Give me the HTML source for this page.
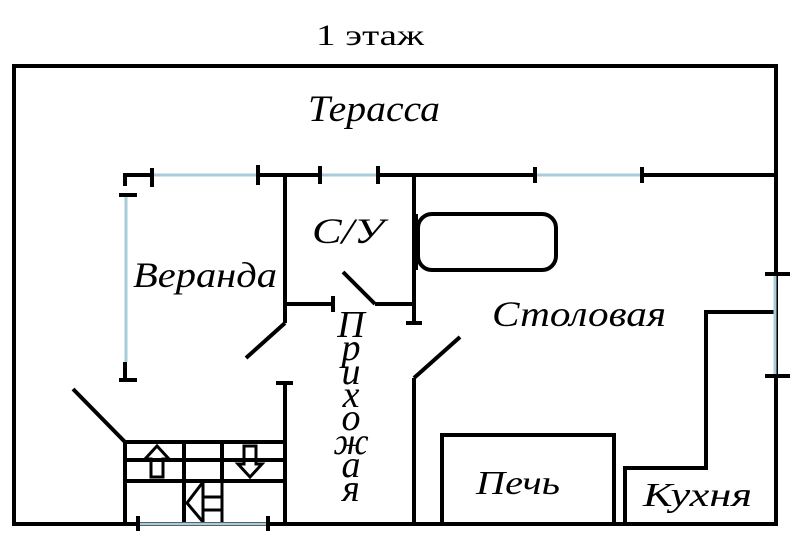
<!DOCTYPE html>
<html><head><meta charset="utf-8"><style>
html,body{margin:0;padding:0;background:#fff;}
svg{display:block}
text{font-family:"Liberation Serif","DejaVu Serif",serif;fill:#000}
.i{font-style:italic}
</style></head><body>
<svg width="800" height="547" viewBox="0 0 800 547" xmlns="http://www.w3.org/2000/svg">
<g stroke="#000" stroke-width="4" fill="none" stroke-linecap="butt">
<rect x="14" y="66" width="762" height="458"/>
<polyline points="125,186 125,175 152,175"/>
<line x1="258" y1="175" x2="320" y2="175"/>
<line x1="378" y1="175" x2="535" y2="175"/>
<line x1="642" y1="175" x2="776" y2="175"/>
<line x1="152" y1="168" x2="152" y2="187"/>
<line x1="258" y1="165" x2="258" y2="185"/>
<line x1="320" y1="166" x2="320" y2="184"/>
<line x1="378" y1="166" x2="378" y2="184"/>
<line x1="535" y1="167" x2="535" y2="183"/>
<line x1="642" y1="167" x2="642" y2="183"/>
<line x1="119" y1="195" x2="137" y2="195"/>
<line x1="119" y1="380" x2="137" y2="380"/>
<line x1="125" y1="362" x2="125" y2="380"/>
<line x1="285" y1="175" x2="285" y2="323"/>
<line x1="285" y1="304" x2="333" y2="304"/>
<line x1="333" y1="296" x2="333" y2="312"/>
<line x1="285" y1="323" x2="246" y2="358"/>
<line x1="414" y1="175" x2="414" y2="323"/>
<line x1="406" y1="323" x2="422" y2="323"/>
<line x1="375" y1="304" x2="414" y2="304"/>
<line x1="375" y1="304" x2="343" y2="272"/>
<line x1="285" y1="382" x2="285" y2="524"/>
<line x1="276" y1="383" x2="293" y2="383"/>
<line x1="414" y1="378" x2="414" y2="524"/>
<line x1="414" y1="378" x2="460" y2="337"/>
<line x1="73" y1="389" x2="125" y2="442"/>
<line x1="125" y1="442" x2="125" y2="524"/>
<line x1="125" y1="442" x2="285" y2="442"/>
<line x1="125" y1="460" x2="285" y2="460"/>
<line x1="125" y1="481" x2="285" y2="481"/>
<line x1="184" y1="442" x2="184" y2="524"/>
<line x1="222" y1="442" x2="222" y2="481"/>
<polygon points="157,446 145,459 151,459 151,477 163,477 163,459 169,459" stroke-width="3"/>
<polygon points="250,477 238,464 244,464 244,446 256,446 256,464 262,464" stroke-width="3"/>
<polyline points="203,482 187,503 203,522" stroke-width="3"/>
<line x1="203" y1="482" x2="203" y2="524" stroke-width="3"/>
<line x1="222" y1="481" x2="222" y2="524" stroke-width="3"/>
<line x1="203" y1="497" x2="222" y2="497" stroke-width="3"/>
<line x1="203" y1="510" x2="222" y2="510" stroke-width="3"/>
<line x1="138" y1="516" x2="138" y2="531"/>
<line x1="268" y1="516" x2="268" y2="531"/>
<rect x="418" y="214" width="138" height="56" rx="14"/>
<line x1="415" y1="214" x2="415" y2="270" stroke-width="6"/>
<rect x="442" y="435" width="172" height="89"/>
<polyline points="625,524 625,468 706,468 706,312 774,312"/>
<line x1="765" y1="274" x2="790" y2="274"/>
<line x1="765" y1="376" x2="790" y2="376"/>
</g>
<g stroke="#a8ccd8" stroke-width="3">
<line x1="154" y1="175" x2="256" y2="175"/>
<line x1="322" y1="175" x2="376" y2="175"/>
<line x1="537" y1="175" x2="640" y2="175"/>
<line x1="126" y1="197" x2="126" y2="362"/>
<line x1="140" y1="524" x2="266" y2="524"/>
<line x1="775" y1="276" x2="775" y2="374"/>
</g>
<text x="316" y="45" font-size="30" textLength="108" lengthAdjust="spacingAndGlyphs">1 этаж</text>
<text x="308" y="121" font-size="37" class="i" textLength="132" lengthAdjust="spacingAndGlyphs">Терасса</text>
<text x="133" y="287" font-size="36" class="i" textLength="144" lengthAdjust="spacingAndGlyphs">Веранда</text>
<text x="312" y="243" font-size="36" class="i" textLength="72" lengthAdjust="spacingAndGlyphs">С/У</text>
<text x="492" y="326" font-size="36" class="i" textLength="174" lengthAdjust="spacingAndGlyphs">Столовая</text>
<text x="476" y="494" font-size="34" class="i" textLength="84" lengthAdjust="spacingAndGlyphs">Печь</text>
<text x="643" y="506" font-size="34" class="i" textLength="109" lengthAdjust="spacingAndGlyphs">Кухня</text>
<g font-size="38" class="i" text-anchor="middle">
<text x="351" y="337">П</text>
<text x="351" y="360">р</text>
<text x="351" y="384">и</text>
<text x="351" y="407">х</text>
<text x="351" y="430">о</text>
<text x="351" y="454">ж</text>
<text x="351" y="477">а</text>
<text x="351" y="501">я</text>
</g>
</svg>
</body></html>
